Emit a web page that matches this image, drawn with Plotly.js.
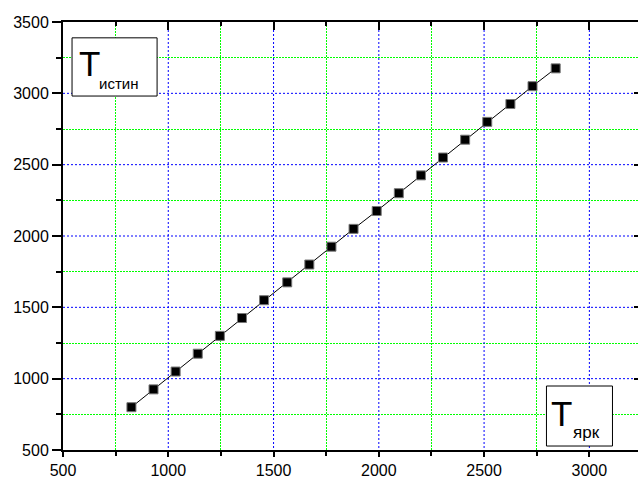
<!DOCTYPE html>
<html>
<head>
<meta charset="utf-8">
<script src="https://cdn.plot.ly/plotly-3.0.1.min.js"></script>
<style>
html,body{margin:0;padding:0;overflow:hidden;background:#fff;}
#chart{width:660px;height:479px;}
#chart .gridlayer path{shape-rendering:auto !important;}
</style>
</head>
<body>
<div id="chart"></div>
<script>
// Brightness temperature (x) vs true temperature (y)
const tYark = [825, 930, 1035, 1140, 1245, 1350, 1455, 1565, 1670, 1775, 1880, 1990, 2095, 2200, 2305, 2410, 2515, 2625, 2730, 2840];
const tIstin = [800, 925, 1050, 1175, 1300, 1425, 1550, 1675, 1800, 1925, 2050, 2175, 2300, 2425, 2550, 2675, 2800, 2925, 3050, 3175];
const xTickVals = [500, 1000, 1500, 2000, 2500, 3000];
const xMinorVals = [750, 1250, 1750, 2250, 2750, 3250];
const yTickVals = [500, 1000, 1500, 2000, 2500, 3000, 3500];
const yMinorVals = [750, 1250, 1750, 2250, 2750, 3250];

const FAM = '"Liberation Sans", Arial, sans-serif';
const font = {family: FAM, size: 16, color: '#000'};

const main = {
  x: tYark, y: tIstin, type: 'scatter', mode: 'lines+markers',
  line: {color: '#000', width: 1},
  marker: {symbol: 'square', size: 9, color: '#000', line: {color: '#777', width: 1}},
  hoverinfo: 'skip', cliponaxis: false
};
const mirror = {
  x: tYark, y: tIstin, type: 'scatter', mode: 'markers', xaxis: 'x2', yaxis: 'y2',
  marker: {opacity: 0}, hoverinfo: 'skip', showlegend: false
};

function axis(len, minLen, minorVals) {
  return {
    showline: true, linecolor: '#000', linewidth: 2,
    ticks: 'outside', ticklen: len, tickwidth: 2, tickcolor: '#000',
    showgrid: true, gridcolor: '#0000ff', gridwidth: 1, griddash: '2px,2px',
    zeroline: false, tickfont: font,
    minor: {tickmode: 'array', tickvals: minorVals, ticks: 'outside', ticklen: minLen, tickwidth: 2, tickcolor: '#000',
            showgrid: true, gridcolor: '#00ff00', gridwidth: 1, griddash: '2px,1px'}
  };
}
function mirrorAxis(minorVals, majorVals) {
  return {
    showline: true, linecolor: '#000', linewidth: 2, ticks: 'inside', ticklen: 8, tickwidth: 2, tickcolor: '#000',
    tickvals: majorVals, showticklabels: false, showgrid: false, zeroline: false,
    minor: {tickmode: 'array', tickvals: minorVals, ticks: 'inside', ticklen: 4, tickwidth: 2, tickcolor: '#000', showgrid: false}
  };
}

const layout = {
  width: 660, height: 479,
  margin: {l: 63, r: 18.4, t: 22, b: 29},
  paper_bgcolor: '#fff', plot_bgcolor: '#fff',
  showlegend: false,
  xaxis: Object.assign(axis(5, 4, xMinorVals), {range: [500, 3250], tickvals: xTickVals, ticktext: xTickVals.map(String)}),
  yaxis: Object.assign(axis(9, 5, yMinorVals), {range: [500, 3500], tickvals: yTickVals, ticktext: yTickVals.map(String)}),
  xaxis2: Object.assign(mirrorAxis(xMinorVals, xTickVals), {overlaying: 'x', side: 'top', anchor: 'y2', matches: 'x'}),
  yaxis2: Object.assign(mirrorAxis(yMinorVals, yTickVals), {overlaying: 'y', side: 'right', anchor: 'x2', matches: 'y'}),
  shapes: [
    {type: 'rect', xref: 'paper', yref: 'paper', x0: 0.0156, x1: 0.1625, y0: 0.827, y1: 0.963,
     line: {color: '#000', width: 1}, fillcolor: '#fff', layer: 'above'},
    {type: 'rect', xref: 'paper', yref: 'paper', x0: 0.835, x1: 0.949, y0: 0.0093, y1: 0.1495,
     line: {color: '#000', width: 1}, fillcolor: '#fff', layer: 'above'}
  ],
  annotations: [
    {xref: 'paper', yref: 'paper', x: 0.024, y: 0.853, xanchor: 'left', yanchor: 'bottom',
     text: 'T', showarrow: false, font: {family: FAM, size: 35, color: '#000'}},
    {xref: 'paper', yref: 'paper', x: 0.058, y: 0.832, xanchor: 'left', yanchor: 'bottom',
     text: 'истин', showarrow: false, font: {family: FAM, size: 15, color: '#000'}},
    {xref: 'paper', yref: 'paper', x: 0.840, y: 0.036, xanchor: 'left', yanchor: 'bottom',
     text: 'T', showarrow: false, font: {family: FAM, size: 35, color: '#000'}},
    {xref: 'paper', yref: 'paper', x: 0.877, y: 0.014, xanchor: 'left', yanchor: 'bottom',
     text: 'ярк', showarrow: false, font: {family: FAM, size: 17, color: '#000'}}
  ]
};

Plotly.newPlot('chart', [main, mirror], layout, {staticPlot: true, displayModeBar: false});
</script>
</body>
</html>
